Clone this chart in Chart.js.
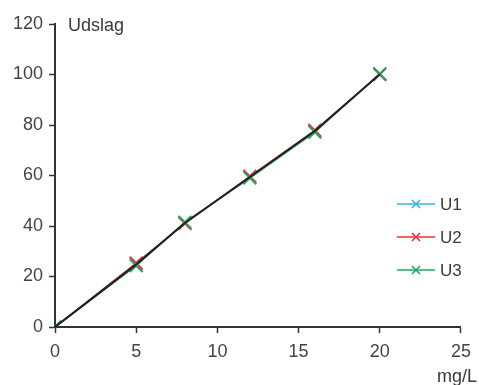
<!DOCTYPE html>
<html><head><meta charset="utf-8">
<script src="https://cdn.jsdelivr.net/npm/chart.js@4/dist/chart.umd.min.js"></script>
<style>html,body{margin:0;padding:0;background:#fff}#wrap{width:479px;height:385px}</style>
</head><body><div id="wrap"><canvas id="c"></canvas></div>
<script>
const xValues = [0, 5, 8, 12, 16, 20];
const u1 = [0, 24.7, 41.2, 59.4, 77.6, 100.1];
const u2 = [0, 25.3, 41.0, 59.7, 77.9, 100.0];
const u3 = [0, 24.3, 41.5, 59.0, 77.2, 100.3];
const meanY = [0, 24.8, 41.2, 59.4, 77.6, 100.1];
const seriesNames = ['U1', 'U2', 'U3'];
const seriesColors = ['#38b2e8', '#e8353a', '#22a862'];
const yTicks = [0, 20, 40, 60, 80, 100, 120];
const xTicks = [0, 5, 10, 15, 20, 25];

const pts = (xs, ys) => xs.map((x, i) => ({x, y: ys[i]}));
const FONT = '"Liberation Sans", Arial, sans-serif';

const overlay = {
  id: 'overlay',
  afterDraw(chart) {
    const ctx = chart.ctx;
    ctx.save();
    ctx.fillStyle = '#3a3a3a';
    ctx.font = '18px ' + FONT;
    ctx.textBaseline = 'middle';
    ctx.textAlign = 'left';
    ctx.fillText('Udslag', 68, 26);
    ctx.textAlign = 'right';
    ctx.fillText('mg/L', 477, 377);
    // legend
    const lx = 397, ly = [204, 237, 270];
    seriesNames.forEach((n, i) => {
      const y = ly[i];
      ctx.strokeStyle = seriesColors[i];
      ctx.lineWidth = 1.6;
      ctx.beginPath(); ctx.moveTo(lx, y); ctx.lineTo(lx + 38, y); ctx.stroke();
      const cx = lx + 19, r = 4;
      ctx.beginPath();
      ctx.moveTo(cx - r, y - r); ctx.lineTo(cx + r, y + r);
      ctx.moveTo(cx + r, y - r); ctx.lineTo(cx - r, y + r);
      ctx.stroke();
      ctx.fillStyle = '#3a3a3a';
      ctx.textAlign = 'left';
      ctx.font = '17px ' + FONT;
      ctx.fillText(n, lx + 43, y + 1);
    });
    ctx.restore();
  }
};

const datasets = seriesNames.map((n, i) => ({
  label: n,
  data: pts(xValues, [u1, u2, u3][i]),
  borderColor: seriesColors[i],
  backgroundColor: seriesColors[i],
  borderWidth: 1.5,
  pointStyle: 'crossRot',
  pointRadius: 9,
  pointBorderWidth: 2,
  order: 3 - i
}));
datasets.push({
  label: 'mean',
  data: pts(xValues, meanY),
  borderColor: '#222',
  borderWidth: 2,
  pointRadius: 0,
  order: 0
});

const gridOpts = { display: true, drawOnChartArea: false, drawTicks: true, tickLength: 6, tickColor: '#333', tickWidth: 1.5 };

new Chart(document.getElementById('c'), {
  type: 'line',
  data: { datasets },
  options: {
    responsive: true,
    maintainAspectRatio: false,
    animation: false,
    layout: { padding: { top: 24, right: 17, left: 0, bottom: 0 } },
    plugins: { legend: { display: false }, tooltip: { enabled: false } },
    scales: {
      x: {
        type: 'linear', min: 0, max: 25,
        afterBuildTicks: s => { s.ticks = xTicks.map(v => ({value: v})); },
        afterFit: s => { s.height = 58; },
        grid: gridOpts,
        border: { color: '#333', width: 2 },
        ticks: { color: '#444', font: { size: 18, family: FONT }, padding: 8, maxRotation: 0 }
      },
      y: {
        type: 'linear', min: 0, max: 120,
        afterBuildTicks: s => { s.ticks = yTicks.map(v => ({value: v})); },
        afterFit: s => { s.width = 55; },
        grid: gridOpts,
        border: { color: '#333', width: 2 },
        ticks: { color: '#444', font: { size: 18, family: FONT }, padding: 6 }
      }
    }
  },
  plugins: [overlay]
});
</script></body></html>
